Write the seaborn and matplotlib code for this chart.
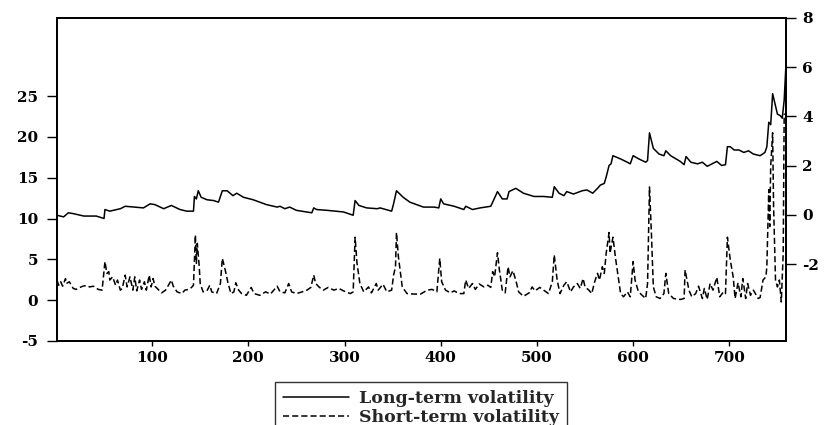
import matplotlib
matplotlib.use("Agg")
import matplotlib.pyplot as plt
import seaborn as sns

# long-term volatility (left axis)
long_t = [1, 8, 13, 18, 29, 42, 50, 51, 56, 67, 72, 81, 91, 98, 103, 112, 120, 129, 136, 143,
          144, 146, 148, 151, 157, 164, 169, 173, 178, 184, 188, 195, 205, 219, 230, 233, 238, 243, 250, 266,
          268, 271, 282, 299, 309, 311, 315, 323, 334, 337, 349, 351, 354, 361, 368, 382, 393, 398, 400, 403,
          414, 424, 426, 433, 441, 452, 454, 459, 464, 469, 471, 478, 486, 497, 507, 516, 518, 523, 528, 531,
          538, 547, 552, 558, 563, 566, 570, 572, 575, 577, 579, 583, 587, 594, 597, 600, 606, 613, 615, 617,
          621, 627, 632, 634, 639, 649, 653, 655, 660, 667, 672, 677, 682, 687, 692, 696, 698, 701, 705, 710,
          715, 720, 725, 732, 737, 739, 741, 743, 745, 747, 750, 753, 755, 757, 759]
long_vol = [10.4, 10.2, 10.7, 10.6, 10.3, 10.3, 10.0, 11.1, 10.9, 11.2, 11.5, 11.4, 11.3, 11.8, 11.7, 11.2, 11.6, 11.1, 10.9, 10.9,
            12.7, 12.4, 13.4, 12.6, 12.3, 12.2, 12.0, 13.4, 13.4, 12.8, 13.1, 12.6, 12.3, 11.7, 11.4, 11.5, 11.2, 11.4, 11.0, 10.7,
            11.3, 11.1, 11.0, 10.8, 10.4, 12.2, 11.6, 11.3, 11.2, 11.3, 10.9, 11.8, 13.4, 12.6, 12.0, 11.4, 11.4, 11.3, 12.4, 11.8,
            11.5, 11.1, 11.5, 11.1, 11.3, 11.5, 12.0, 13.3, 12.4, 12.4, 13.3, 13.7, 13.1, 12.7, 12.7, 12.6, 13.9, 13.1, 12.8, 13.3,
            13.0, 13.4, 13.5, 13.1, 13.7, 14.1, 14.3, 15.1, 16.5, 16.7, 17.7, 17.5, 17.3, 16.9, 16.7, 17.7, 17.3, 16.9, 17.1, 20.5,
            18.6, 17.9, 17.7, 18.3, 17.7, 17.0, 16.6, 17.6, 16.9, 16.7, 16.9, 16.4, 16.7, 17.0, 16.5, 16.6, 18.8, 18.8, 18.4, 18.4,
            18.1, 18.3, 17.9, 17.7, 18.1, 18.8, 21.8, 21.5, 25.3, 24.3, 22.8, 22.6, 22.3, 24.5, 29.2]

# short-term volatility (right axis)
short_t = [1, 3, 5, 7, 10, 11, 14, 18, 21, 25, 28, 32, 35, 39, 44, 48, 51, 53, 55, 56,
           59, 62, 64, 67, 69, 72, 74, 77, 80, 82, 84, 87, 89, 92, 94, 97, 99, 101, 103, 107,
           110, 114, 117, 120, 122, 126, 131, 134, 138, 141, 143, 145, 146, 147, 149, 150, 153, 157, 160, 162,
           167, 171, 173, 176, 179, 182, 185, 187, 190, 193, 198, 203, 206, 212, 218, 223, 230, 233, 238, 242,
           245, 250, 256, 261, 265, 268, 270, 274, 278, 283, 289, 294, 299, 306, 309, 311, 313, 316, 320, 325,
           328, 333, 335, 340, 344, 349, 351, 353, 354, 356, 360, 365, 372, 379, 386, 391, 396, 399, 401, 405,
           410, 414, 419, 424, 426, 429, 433, 436, 440, 445, 449, 452, 454, 456, 459, 461, 464, 467, 470, 472,
           475, 478, 481, 486, 492, 495, 498, 503, 507, 512, 516, 518, 521, 524, 528, 531, 535, 538, 542, 545,
           548, 550, 554, 557, 560, 563, 565, 568, 570, 572, 575, 576, 579, 582, 584, 587, 590, 594, 597, 600,
           602, 605, 608, 613, 615, 617, 619, 621, 624, 628, 632, 634, 637, 642, 649, 653, 654, 658, 661, 665,
           668, 672, 674, 677, 680, 683, 687, 690, 694, 696, 698, 701, 704, 706, 709, 712, 714, 717, 719, 722,
           725, 730, 732, 735, 738, 739, 741, 742, 743, 745, 746, 748, 750, 752, 754, 756, 757, 759]
short_vol = [-2.65, -2.86, -2.72, -2.90, -2.59, -2.79, -2.72, -2.99, -3.03, -2.95, -2.90, -2.87, -2.93, -2.90, -3.03, -3.06, -1.90, -2.38, -2.31, -2.65,
             -2.52, -2.86, -2.65, -3.06, -2.99, -2.45, -2.93, -2.52, -3.06, -2.52, -3.09, -2.65, -3.03, -2.72, -3.06, -2.45, -2.93, -2.59, -2.90, -3.06,
             -3.17, -3.06, -2.86, -2.65, -2.90, -3.13, -3.20, -3.06, -3.03, -2.95, -2.86, -0.82, -1.97, -1.16, -2.11, -2.79, -3.13, -3.09, -2.86, -3.13,
             -3.20, -2.79, -1.77, -2.24, -2.79, -3.20, -3.13, -2.76, -3.06, -3.20, -3.27, -2.95, -3.20, -3.27, -3.13, -3.22, -2.90, -3.13, -3.17, -2.79,
             -3.13, -3.20, -3.13, -3.06, -2.95, -2.45, -2.79, -2.95, -3.06, -2.95, -3.06, -2.99, -3.09, -3.20, -3.13, -0.91, -1.97, -2.79, -3.13, -2.93,
             -3.17, -2.79, -3.06, -2.82, -3.13, -3.06, -2.45, -2.11, -0.72, -1.70, -2.93, -3.20, -3.22, -3.22, -3.06, -3.03, -3.13, -1.77, -2.72, -3.06,
             -3.17, -3.09, -3.20, -3.20, -2.65, -2.99, -2.79, -3.03, -2.81, -2.93, -2.86, -2.95, -2.31, -2.52, -1.54, -2.24, -3.06, -3.17, -2.11, -2.52,
             -2.27, -2.65, -3.13, -3.31, -3.17, -2.93, -3.09, -2.95, -3.06, -3.20, -2.72, -1.63, -2.65, -3.20, -2.86, -2.72, -3.13, -2.93, -2.79, -2.99,
             -2.59, -2.93, -3.06, -3.20, -2.72, -2.38, -2.65, -2.11, -2.38, -1.56, -0.72, -1.56, -0.91, -1.84, -2.38, -3.20, -3.33, -3.13, -3.33, -1.90,
             -2.65, -3.06, -3.22, -3.40, -2.79, 1.13, -0.75, -2.93, -3.33, -3.40, -3.20, -2.38, -3.20, -3.40, -3.44, -3.40, -2.24, -3.06, -3.33, -3.20,
             -2.90, -3.40, -2.99, -3.44, -2.79, -3.06, -2.54, -3.33, -3.13, -3.20, -0.91, -1.84, -2.52, -3.40, -2.76, -3.33, -2.59, -3.40, -2.79, -3.27,
             -3.06, -3.40, -3.36, -2.65, -2.52, -2.11, 1.02, -0.48, 1.97, 3.33, 0.34, -2.65, -2.93, -2.65, -3.54, -1.56, 4.08, 4.10]

series_labels = ["Long-term volatility", "Short-term volatility"]
x_ticks = [100, 200, 300, 400, 500, 600, 700]
left_ticks = [-5, 0, 5, 10, 15, 20, 25]
right_ticks = [-2, 0, 2, 4, 6, 8]

sns.set_style("white")
plt.rcParams["font.family"] = ["DejaVu Serif"]
plt.rcParams["font.weight"] = "bold"
plt.rcParams["axes.unicode_minus"] = False

fig = plt.figure(figsize=(8.24, 4.25), dpi=100)
ax = fig.add_axes([0.069, 0.198, 0.885, 0.760])
ax2 = ax.twinx()

sns.lineplot(x=long_t, y=long_vol, ax=ax, color="black", lw=1.1, legend=False)
sns.lineplot(x=short_t, y=short_vol, ax=ax2, color="black", lw=1.1,
             linestyle=(0, (4, 2)), legend=False)

ax.set_xlim(1, 759)
ax.set_ylim(-5, 34.6)
ax2.set_ylim(-5.12, 8.0)
ax.set_xticks(x_ticks)
ax.set_yticks(left_ticks)
ax2.set_yticks(right_ticks)
ax.set_xlabel("")
ax.set_ylabel("")
ax2.set_ylabel("")

for a in (ax, ax2):
    for sp in a.spines.values():
        sp.set_color("black")
        sp.set_linewidth(1.3)

ax.tick_params(axis="y", left=True, direction="out", length=7.5, width=1,
               pad=6, labelsize=11, colors="black")
ax.tick_params(axis="x", bottom=True, direction="out", length=3.5, width=1,
               pad=4, labelsize=11, colors="black")
ax2.tick_params(axis="y", right=True, direction="out", length=7.5, width=1,
                pad=4, labelsize=11, colors="black")
for lab in ax.get_xticklabels() + ax.get_yticklabels() + ax2.get_yticklabels():
    lab.set_fontweight("bold")

handles = [ax.lines[0], ax2.lines[0]]
leg = fig.legend(handles, series_labels, loc="upper center",
                 bbox_to_anchor=(0.511, 0.101), frameon=True, fancybox=False,
                 edgecolor="black", handlelength=3.8, handletextpad=0.6,
                 borderpad=0.45, borderaxespad=0, labelspacing=0.12,
                 prop={"weight": "bold", "size": 12.5})
leg.get_frame().set_linewidth(1.0)

fig.savefig("out.png", dpi=100)
